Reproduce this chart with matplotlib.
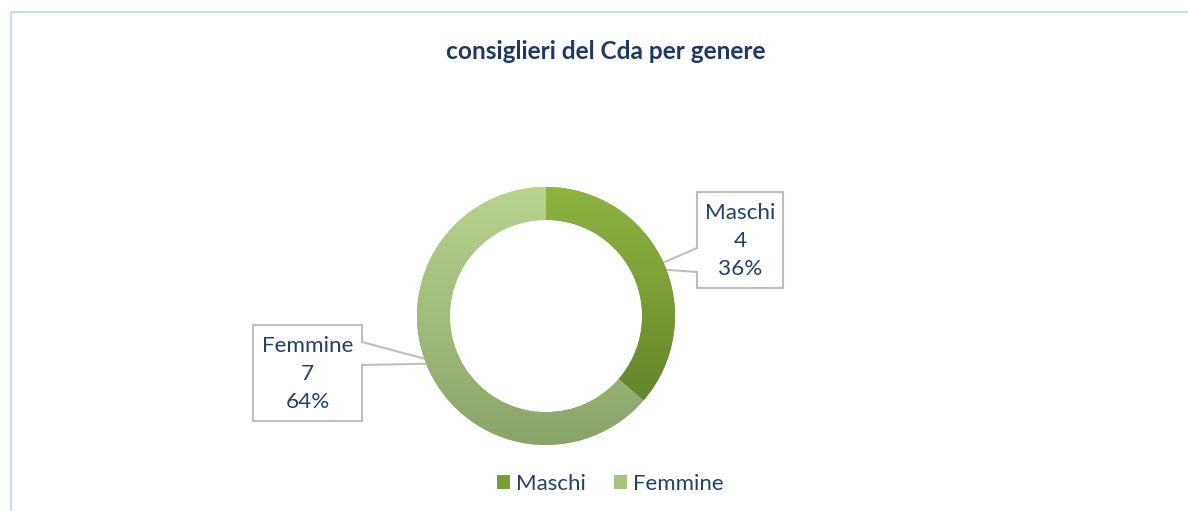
import numpy as np
import matplotlib
matplotlib.use("Agg")
import matplotlib.pyplot as plt
from matplotlib.patches import Polygon, Rectangle
from matplotlib.colors import LinearSegmentedColormap

# ---- data ----
categories = ["Maschi", "Femmine"]
values = [4, 7]
title = "consiglieri del Cda per genere"

# ---- style ----
top_colors = ["#8fb441", "#b8d48e"]
bottom_colors = ["#66862b", "#8aa468"]
legend_colors = ["#7a9e36", "#a7c47f"]
text_color = "#1f3864"
label_color = "#243f6a"
font = ["Lato", "DejaVu Sans"]

W, H = 1188, 511
fig = plt.figure(figsize=(W / 100, H / 100), dpi=100)
fig.patch.set_facecolor("white")

# overlay in pixel coordinates for frame and callouts
ov = fig.add_axes([0, 0, 1, 1])
ov.set_xlim(0, W)
ov.set_ylim(H, 0)
ov.axis("off")
ov.add_patch(Rectangle((10.5, 12.5), W + 20, H + 20, fill=False,
                       edgecolor="#c9dcf2", lw=1.6))

# pie axes
cx, cy, R = 546, 316, 129
ax = fig.add_axes([(cx - R) / W, (H - cy - R) / H, 2 * R / W, 2 * R / H])
wedges, _ = ax.pie(values, radius=1, startangle=90, counterclock=False,
                   colors=legend_colors,
                   wedgeprops=dict(width=0.255, linewidth=0))
ax.set_xlim(-1, 1)
ax.set_ylim(-1, 1)
ax.set_aspect("equal")
ax.axis("off")

for w, ct, cb in zip(wedges, top_colors, bottom_colors):
    v = w.get_path().vertices
    y0, y1 = v[:, 1].min(), v[:, 1].max()
    cmap = LinearSegmentedColormap.from_list("g", [cb, ct])
    grad = np.linspace(0, 1, 256).reshape(-1, 1)
    im = ax.imshow(grad, cmap=cmap, origin="lower", aspect="auto",
                   extent=[-1, 1, y0, y1], zorder=w.get_zorder() + 0.1)
    im.set_clip_path(w)
ax.set_xlim(-1, 1)
ax.set_ylim(-1, 1)

# callouts
total = sum(values)
boxes = [
    dict(x0=697, x1=783, y0=192, y1=288, side="left", b0=248, b1=272),
    dict(x0=253, x1=362, y0=325, y1=421, side="right", b0=342, b1=365),
]
start = 90.0
to_px = ax.transData + ov.transData.inverted()
for cat, val, w, bx in zip(categories, values, wedges, boxes):
    ang = start - 360.0 * val / total / 2
    start -= 360.0 * val / total
    r_tip = 0.885
    tip = to_px.transform((r_tip * np.cos(np.radians(ang)),
                           r_tip * np.sin(np.radians(ang))))
    x0, x1, y0, y1 = bx["x0"], bx["x1"], bx["y0"], bx["y1"]
    if bx["side"] == "left":
        pts = [(x0, y0), (x1, y0), (x1, y1), (x0, y1), (x0, bx["b1"]),
               tuple(tip), (x0, bx["b0"])]
    else:
        pts = [(x0, y0), (x1, y0), (x1, bx["b0"]), tuple(tip),
               (x1, bx["b1"]), (x1, y1), (x0, y1)]
    ov.add_patch(Polygon(pts, closed=True, facecolor="white",
                         edgecolor="#bfbfbf", lw=1.5, zorder=5))
    xc = (x0 + x1) / 2
    pct = f"{round(100 * val / total)}%"
    for i, s in enumerate([cat, str(val), pct]):
        ov.text(xc, y0 + 21 + 28 * i, s, ha="center", va="center",
                fontsize=16.2, color=label_color, family=font, zorder=6)

# title
fig.text(606 / W, 1 - 51 / H, title, ha="center", va="center",
         fontsize=17.6, fontweight="bold", color=text_color, family=font)

# legend
leg = fig.legend(wedges, categories, loc="center", bbox_to_anchor=(610 / W, 1 - 484 / H),
                 ncol=2, frameon=False, handlelength=0.6, handleheight=0.6,
                 handletextpad=0.27, columnspacing=1.25,
                 prop=dict(family=font, size=16))
for t in leg.get_texts():
    t.set_color(label_color)

fig.savefig("out.png", dpi=100, facecolor="white")
